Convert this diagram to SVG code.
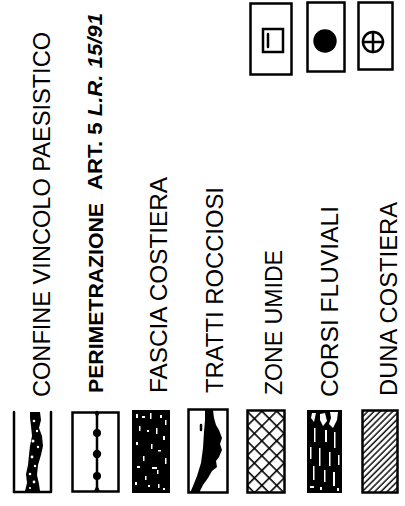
<svg xmlns="http://www.w3.org/2000/svg" width="405" height="506" viewBox="0 0 405 506">
<style>
  .lbl { font-family: "Liberation Sans", Arial, sans-serif; font-size: 24px; fill: #000; }
  .lblb { font-family: "Liberation Sans", Arial, sans-serif; font-size: 21px; font-weight: bold; fill: #000; }
  .frame { fill: none; stroke: #000; stroke-width: 2.5; }
  .ln { fill: none; stroke: #000; stroke-width: 2.5; stroke-linecap: round; }
  .blk { fill: #000; }
  .wht { fill: #fff; }
</style>
<defs>
  <pattern id="cross" patternUnits="userSpaceOnUse" width="10.5" height="10.5" patternTransform="translate(247,410) rotate(45)">
    <line x1="0" y1="0" x2="0" y2="10.5" stroke="#000" stroke-width="3.2"/>
    <line x1="0" y1="0" x2="10.5" y2="0" stroke="#000" stroke-width="3.2"/>
  </pattern>
  <pattern id="hatch" patternUnits="userSpaceOnUse" width="4.4" height="4.4" patternTransform="rotate(45)">
    <line x1="1" y1="0" x2="1" y2="4.4" stroke="#000" stroke-width="1.4"/>
  </pattern>
</defs>
<rect width="405" height="506" fill="#fff"/>

<g id="confine-vincolo">
  <line class="ln" x1="14" y1="412" x2="14" y2="492"/>
  <line class="ln" x1="51" y1="412" x2="51" y2="491"/>
  <line class="ln" x1="14" y1="492" x2="51" y2="492"/>
  <path class="blk" d="M30,412 L40,412 L41,420 L39,428 L42,436 L43,446 L41,455 L38,465 L37,475 L39,484 L40,491 L25,491 L27,483 L26,474 L28,465 L29,455 L30,446 L32,436 L31,426 L30,418 Z"/>
  <g class="wht">
    <circle cx="34" cy="421" r="1.3"/><circle cx="37" cy="431" r="1.2"/><circle cx="33" cy="441" r="1.5"/>
    <circle cx="38" cy="447" r="1.2"/><circle cx="32" cy="457" r="1.4"/><circle cx="35" cy="466" r="1.2"/>
    <circle cx="30" cy="474" r="1.3"/><circle cx="34" cy="482" r="1.4"/><circle cx="30" cy="488" r="1.1"/>
  </g>
  <text class="lbl" transform="translate(50,397) rotate(-90)" textLength="365" lengthAdjust="spacingAndGlyphs">CONFINE VINCOLO PAESISTICO</text>
</g>

<g id="perimetrazione">
  <rect class="frame" x="72.5" y="412.5" width="46" height="79"/>
  <line class="ln" x1="97" y1="412" x2="97" y2="491"/>
  <path class="blk" d="M94,412 L100,412 L97,418 Z M94,491 L100,491 L97,485 Z"/>
  <circle class="blk" cx="97" cy="433" r="4"/>
  <circle class="blk" cx="97" cy="454" r="4.2"/>
  <circle class="blk" cx="97" cy="476" r="4"/>
  <text class="lblb" transform="translate(103,393) rotate(-90)" textLength="190" lengthAdjust="spacingAndGlyphs">PERIMETRAZIONE</text>
  <text class="lblb" transform="translate(102,190) rotate(-90)" textLength="177" lengthAdjust="spacingAndGlyphs">ART. 5 <tspan font-style="italic">L.R. 15/91</tspan></text>
</g>

<g id="fascia-costiera">
  <rect class="blk" x="132" y="410" width="38" height="83"/>
  <g class="wht">
    <rect x="136" y="414" width="2" height="4"/><rect x="142" y="416" width="3" height="2"/><rect x="150" y="413" width="1.5" height="6"/>
    <rect x="160" y="415" width="2" height="3"/><rect x="165" y="420" width="1.5" height="5"/><rect x="139" y="426" width="1.5" height="5"/>
    <rect x="147" y="430" width="2" height="2"/><rect x="156" y="428" width="1.5" height="6"/><rect x="163" y="436" width="2" height="4"/>
    <rect x="136" y="442" width="2" height="3"/><rect x="151" y="444" width="1.5" height="5"/><rect x="158" y="450" width="3" height="1.5"/>
    <rect x="143" y="456" width="1.5" height="5"/><rect x="165" y="458" width="1.5" height="6"/><rect x="137" y="466" width="3" height="2"/>
    <rect x="152" y="467" width="5" height="2"/><rect x="157" y="470" width="1.5" height="4"/><rect x="145" y="476" width="1.5" height="4"/>
    <rect x="135" y="482" width="2" height="3"/><rect x="148" y="485" width="2" height="2"/><rect x="158" y="484" width="1.5" height="4"/>
    <rect x="163" y="488" width="2" height="2"/>
  </g>
  <text class="lbl" transform="translate(167,393) rotate(-90)" textLength="216" lengthAdjust="spacingAndGlyphs">FASCIA COSTIERA</text>
</g>

<g id="tratti-rocciosi">
  <rect class="frame" x="188.5" y="409.5" width="39" height="83"/>
  <path class="blk" d="M205,410 L213,410 L214,418 L216,425 L219,430 L222,438 L220,444 L222,450 L219,457 L216,461 L217,467 L212,471 L208,478 L203,485 L199,493 L190,493 L193,486 L197,476 L201,463 L203,448 L204,432 L205,420 Z"/>
  <line class="ln" x1="201" y1="425" x2="201" y2="430" stroke-width="1.5"/>
  <text class="lbl" transform="translate(223,393) rotate(-90)" textLength="206" lengthAdjust="spacingAndGlyphs">TRATTI ROCCIOSI</text>
</g>

<g id="zone-umide">
  <rect x="247" y="410" width="38" height="83" fill="url(#cross)"/>
  <rect class="frame" x="247.5" y="410.5" width="37" height="82"/>
  <text class="lbl" transform="translate(282,395) rotate(-90)" textLength="145" lengthAdjust="spacingAndGlyphs">ZONE UMIDE</text>
</g>

<g id="corsi-fluviali">
  <rect class="blk" x="307" y="410" width="35" height="83"/>
  <g class="wht">
    <path d="M312,413 L316,413 L314,422 L311,418 Z"/>
    <path d="M320,414 L325,413 L327,421 L323,426 L320,420 Z"/>
    <path d="M330,412 L338,412 L337,420 L333,428 L329,424 L331,418 Z"/>
    <rect x="314" y="428" width="1.5" height="14"/><rect x="325" y="430" width="2" height="12"/>
    <rect x="334" y="432" width="1.5" height="16"/><rect x="310" y="447" width="1.5" height="12"/>
    <rect x="319" y="448" width="1.5" height="18"/><rect x="329" y="452" width="1.5" height="14"/>
    <rect x="338" y="455" width="1.5" height="10"/><rect x="313" y="466" width="1.5" height="14"/>
    <rect x="324" y="470" width="1.5" height="12"/><rect x="333" y="472" width="2" height="14"/>
    <rect x="310" y="486" width="4" height="2"/><rect x="320" y="487" width="2" height="3"/><rect x="337" y="488" width="2" height="3"/>
  </g>
  <text class="lbl" transform="translate(338,397) rotate(-90)" textLength="191" lengthAdjust="spacingAndGlyphs">CORSI FLUVIALI</text>
</g>

<g id="duna-costiera">
  <rect x="362" y="410" width="36" height="83" fill="url(#hatch)"/>
  <rect class="frame" x="362.5" y="410.5" width="35" height="82"/>
  <text class="lbl" transform="translate(397,396) rotate(-90)" textLength="194" lengthAdjust="spacingAndGlyphs">DUNA COSTIERA</text>
</g>

<g id="symbol-square">
  <rect class="frame" x="250.5" y="3.5" width="41" height="71"/>
  <rect class="frame" x="263" y="29" width="20" height="23"/>
  <line class="ln" x1="268" y1="34" x2="268" y2="47" stroke-width="1.8"/>
</g>

<g id="symbol-dot">
  <rect class="frame" x="307.5" y="2.5" width="37" height="69"/>
  <circle class="blk" cx="325" cy="41" r="11.7"/>
</g>

<g id="symbol-cross">
  <rect class="frame" x="358.5" y="2.5" width="34" height="67"/>
  <circle class="frame" cx="373" cy="42" r="10"/>
  <line class="ln" x1="363" y1="42" x2="383" y2="42" stroke-width="2"/>
  <line class="ln" x1="373" y1="32" x2="373" y2="52" stroke-width="2"/>
</g>
</svg>
